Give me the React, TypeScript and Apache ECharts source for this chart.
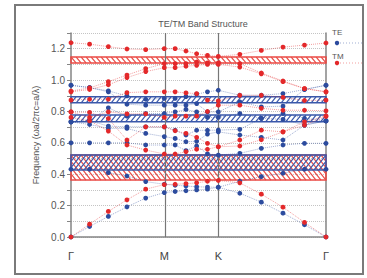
import React, { useEffect, useRef } from "react";
import * as echarts from "echarts";

// k-path positions (Γ → M → K → Γ), 16 sampled k-points
const kx = [0, 0.115, 0.231, 0.346, 0.462, 0.577, 0.644, 0.711, 0.777, 0.844, 0.911, 1.044, 1.177, 1.311, 1.444, 1.577];
const kLabelPos = [0, 0.577, 0.911, 1.577];
const kLabels = ["Γ", "M", "K", "Γ"];
const X_MAX = 1.577;

// TM bands (red)
const tm1 = [0, 0.082, 0.163, 0.237, 0.305, 0.334, 0.336, 0.34, 0.345, 0.355, 0.36, 0.345, 0.273, 0.19, 0.093, 0];
const tm2 = [0.762, 0.74, 0.675, 0.586, 0.554, 0.529, 0.529, 0.543, 0.559, 0.559, 0.575, 0.58, 0.62, 0.67, 0.713, 0.768];
const tm3 = [0.797, 0.794, 0.755, 0.618, 0.702, 0.702, 0.677, 0.66, 0.635, 0.597, 0.575, 0.618, 0.681, 0.67, 0.734, 0.772];
const tm4 = [0.797, 0.762, 0.797, 0.785, 0.785, 0.762, 0.77, 0.77, 0.77, 0.8, 0.84, 0.84, 0.82, 0.808, 0.808, 0.804];
const tm5 = [0.872, 0.878, 0.878, 0.92, 0.925, 0.925, 0.925, 0.918, 0.914, 0.872, 0.867, 0.903, 0.903, 0.89, 0.87, 0.872];
const tm6 = [0.925, 0.94, 0.97, 1.016, 1.054, 1.079, 1.079, 1.088, 1.094, 1.1, 1.1, 1.083, 1.04, 0.99, 0.946, 0.925];
const tm7 = [0.93, 0.95, 0.99, 1.032, 1.073, 1.105, 1.105, 1.105, 1.115, 1.11, 1.11, 1.105, 1.045, 0.994, 0.946, 0.925];
const tm8 = [1.238, 1.229, 1.213, 1.198, 1.194, 1.2, 1.2, 1.185, 1.168, 1.157, 1.151, 1.164, 1.189, 1.21, 1.223, 1.236];

// TE bands (blue)
const te1 = [0, 0.067, 0.131, 0.192, 0.248, 0.283, 0.29, 0.295, 0.3, 0.305, 0.317, 0.279, 0.222, 0.152, 0.078, 0];
const te2 = [0.432, 0.432, 0.41, 0.389, 0.353, 0.336, 0.33, 0.325, 0.32, 0.318, 0.317, 0.355, 0.385, 0.406, 0.432, 0.432];
const te3 = [0.6, 0.6, 0.6, 0.6, 0.586, 0.586, 0.586, 0.55, 0.58, 0.53, 0.522, 0.533, 0.565, 0.586, 0.597, 0.597];
const te4 = [0.734, 0.717, 0.692, 0.692, 0.66, 0.64, 0.628, 0.607, 0.61, 0.656, 0.67, 0.65, 0.635, 0.618, 0.713, 0.74];
const te5 = [0.734, 0.74, 0.707, 0.702, 0.702, 0.702, 0.68, 0.65, 0.68, 0.68, 0.681, 0.686, 0.756, 0.75, 0.713, 0.74];
const te6 = [0.734, 0.74, 0.823, 0.77, 0.787, 0.787, 0.797, 0.813, 0.797, 0.762, 0.762, 0.787, 0.756, 0.787, 0.756, 0.74];
const te7 = [0.967, 0.952, 0.925, 0.846, 0.84, 0.84, 0.84, 0.84, 0.85, 0.797, 0.797, 0.861, 0.829, 0.834, 0.94, 0.967];
const te8 = [0.967, 0.952, 0.931, 0.899, 0.878, 0.883, 0.883, 0.895, 0.91, 0.925, 0.935, 0.903, 0.903, 0.914, 0.94, 0.967];

// Photonic band gaps
const gapLow = [1.109, 0.363, 0.855, 0.734, 0.427];
const gapHigh = [1.147, 0.522, 0.893, 0.777, 0.522];
const gapPol = [0, 0, 1, 1, 1]; // 0 = TM, 1 = TE

const RED = "#e3282a";
const BLUE = "#2c4b9e";
const RED_HATCH = "#ea4a44";
const BLUE_HATCH = "#3a58aa";

const tmBands = [tm1, tm2, tm3, tm4, tm5, tm6, tm7, tm8];
const teBands = [te1, te2, te3, te4, te5, te6, te7, te8];

function renderHatch(params: any, api: any) {
  const lo = api.value(0);
  const hi = api.value(1);
  const pol = api.value(2);
  const a = api.coord([0, hi]);
  const b = api.coord([X_MAX, lo]);
  const x0 = a[0], y0 = a[1], x1 = b[0], y1 = b[1];
  const h = y1 - y0;
  const color = pol === 0 ? RED_HATCH : BLUE_HATCH;
  const dx = h * 0.8;
  const step = 5;
  const ys = pol === 0 ? y0 : y1;
  const ye = pol === 0 ? y1 : y0;
  const children: any[] = [];
  for (let x = x0 - dx; x < x1; x += step) {
    const s0 = Math.max(0, (x0 - x) / dx);
    const s1 = Math.min(1, (x1 - x) / dx);
    if (s1 <= s0) continue;
    children.push({
      type: "line",
      shape: { x1: x + s0 * dx, y1: ys + s0 * (ye - ys), x2: x + s1 * dx, y2: ys + s1 * (ye - ys) },
      style: { stroke: color, lineWidth: 1.2 },
    });
  }
  children.push({
    type: "rect",
    shape: { x: x0, y: y0, width: x1 - x0, height: h },
    style: { fill: "rgba(255,255,255,0)", stroke: color, lineWidth: 1.5 },
  });
  return { type: "group", children };
}

function bandSeries(band: number[], color: string, lineColor: string) {
  return {
    type: "line",
    data: kx.map((x, i) => [x, band[i]]),
    symbol: "circle",
    symbolSize: 4.8,
    showSymbol: true,
    silent: true,
    z: 5,
    itemStyle: { color },
    lineStyle: { type: "dotted", width: 1, color: lineColor },
  };
}

export default function App() {
  const ref = useRef<HTMLDivElement>(null);
  useEffect(() => {
    const chart = echarts.init(ref.current!, null, { renderer: "svg" });
    const axisColor = "#858585";
    const option: any = {
      animation: false,
      textStyle: { fontFamily: "Liberation Sans, Arial, sans-serif" },
      title: {
        text: "TE/TM Band Structure",
        left: 198,
        top: 14,
        textAlign: "center",
        textStyle: { fontSize: 9, fontWeight: "normal", color: "#555" },
      },
      grid: { left: 71, right: 41, top: 33, bottom: 41 },
      xAxis: {
        type: "value",
        min: 0,
        max: X_MAX,
        axisLine: { show: true, lineStyle: { color: axisColor, width: 1.5 } },
        axisTick: { show: false },
        splitLine: { show: false },
        axisLabel: {
          customValues: kLabelPos,
          formatter: (v: number) => {
            let best = 0;
            kLabelPos.forEach((p, i) => {
              if (Math.abs(p - v) < Math.abs(kLabelPos[best] - v)) best = i;
            });
            return kLabels[best];
          },
          fontSize: 11,
          color: "#444",
          margin: 13,
        },
      },
      yAxis: [
        {
          type: "value",
          min: 0,
          max: 1.3,
          interval: 0.1,
          axisLine: { show: true, lineStyle: { color: axisColor, width: 1.5 } },
          axisTick: { show: true, length: 4, lineStyle: { color: axisColor } },
          axisLabel: {
            formatter: (v: number) => (Math.round(v * 10) % 2 === 0 ? v.toFixed(1) : ""),
            fontSize: 10,
            color: "#555",
            margin: 6,
          },
          splitLine: { show: true, lineStyle: { type: "dotted", color: "#c4c4c4" } },
          name: "Frequency (ωa/2πc=a/λ)",
          nameLocation: "middle",
          nameGap: 27,
          nameTextStyle: { fontSize: 9, color: "#555" },
        },
        {
          type: "value",
          position: "right",
          min: 0,
          max: 1.3,
          axisLine: { show: true, onZero: false, lineStyle: { color: axisColor, width: 1.5 } },
          axisTick: { show: false },
          axisLabel: { show: false },
          splitLine: { show: false },
        },
      ],
      graphic: [
        {
          type: "rect",
          shape: { x: 15, y: 5, width: 348, height: 269 },
          style: { fill: "rgba(255,255,255,0)", stroke: "#7a7a7a", lineWidth: 2 },
          z: 100,
        },
        { type: "text", x: 332, y: 28, style: { text: "TE", fontSize: 8, fill: "#555" } },
        { type: "line", shape: { x1: 340, y1: 43, x2: 362, y2: 43 }, style: { stroke: "rgba(44,75,158,0.45)", lineDash: [1, 2], lineWidth: 1 } },
        { type: "circle", shape: { cx: 337, cy: 43, r: 2.2 }, style: { fill: BLUE } },
        { type: "text", x: 332, y: 52, style: { text: "TM", fontSize: 8, fill: "#555" } },
        { type: "line", shape: { x1: 340, y1: 63, x2: 362, y2: 63 }, style: { stroke: "rgba(227,40,42,0.45)", lineDash: [1, 2], lineWidth: 1 } },
        { type: "circle", shape: { cx: 337, cy: 63, r: 2.2 }, style: { fill: RED } },
      ],
      series: [
        {
          type: "custom",
          renderItem: renderHatch,
          data: gapLow.map((lo, i) => [lo, gapHigh[i], gapPol[i]]),
          encode: { y: [0, 1] },
          silent: true,
          z: 2,
        },
        {
          type: "line",
          data: [],
          silent: true,
          z: 4,
          markLine: {
            silent: true,
            symbol: ["none", "none"],
            label: { show: false },
            lineStyle: { color: "#777", type: "solid", width: 1.2 },
            data: [{ xAxis: kLabelPos[1] }, { xAxis: kLabelPos[2] }],
          },
        },
        ...teBands.map((b) => bandSeries(b, BLUE, "rgba(44,75,158,0.45)")),
        ...tmBands.map((b) => bandSeries(b, RED, "rgba(227,40,42,0.45)")),
      ],
    };
    chart.setOption(option);
    return () => chart.dispose();
  }, []);
  return <div ref={ref} style={{ position: "absolute", left: 0, top: 0, width: 367, height: 278 }} />;
}
